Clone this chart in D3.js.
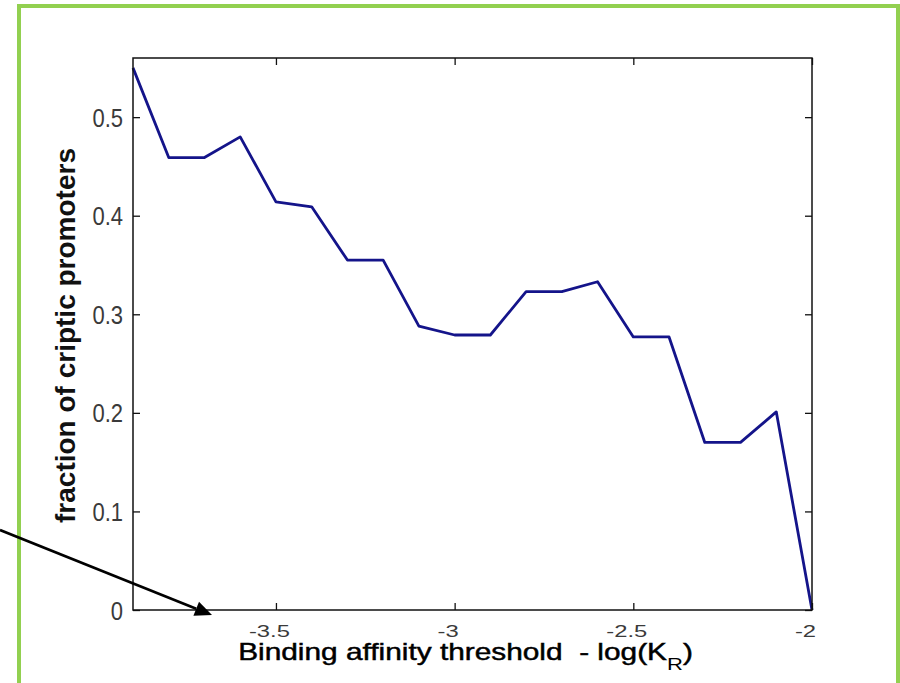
<!DOCTYPE html>
<html>
<head>
<meta charset="utf-8">
<script src="https://cdn.jsdelivr.net/npm/d3@7"></script>
<style>
  html, body { margin: 0; padding: 0; background: #fff; }
  svg { display: block; font-family: "Liberation Sans", Arial, sans-serif; }
</style>
</head>
<body>
<div class="chart"></div>
<script>
// threshold values (x) and fraction of criptic promoters (y)
const thresholds = [-3.9, -3.8, -3.7, -3.6, -3.5, -3.4, -3.3, -3.2, -3.1, -3.0,
                    -2.9, -2.8, -2.7, -2.6, -2.5, -2.4, -2.3, -2.2, -2.1, -2.0];
const fractions  = [0.55, 0.459, 0.459, 0.48, 0.414, 0.409, 0.355, 0.355, 0.288, 0.279,
                    0.279, 0.323, 0.323, 0.333, 0.277, 0.277, 0.17, 0.17, 0.201, 0];
const xTicks = [-3.5, -3, -2.5, -2];
const yTicks = [0, 0.1, 0.2, 0.3, 0.4, 0.5];
const xLabel = "Binding affinity threshold  - log(K";
const xLabelSub = "R";
const yLabel = "fraction of criptic promoters";

var cfg = {
  width: 900,
  height: 683,
  plot: {left: 133, top: 58, right: 812, bottom: 610},
  tick: 7,
  frameColor: "#92d050",
  lineColor: "#14148a",
  tickText: "#3a3a3a"
};

var scale = {
  x: d3.scaleLinear().domain([-3.9, -2]).range([cfg.plot.left, cfg.plot.right]),
  y: d3.scaleLinear().domain([0, 0.56]).range([cfg.plot.bottom, cfg.plot.top])
};

// squeeze / stretch a text horizontally so its drawn width is w
function fitWidth(sel, x, y, w, rotate){
  var bw = sel.node().getBBox().width;
  var k = w / bw;
  if(rotate) sel.attr("transform", `translate(${x},${y}) rotate(-90) scale(${k},1)`);
  else sel.attr("transform", `translate(${x},${y}) scale(${k},1)`);
}

function drawFrame(svg){
  svg.append("rect")
    .attr("x", 19).attr("y", 6)
    .attr("width", 879).attr("height", 720)
    .attr("fill", "none")
    .attr("stroke", cfg.frameColor)
    .attr("stroke-width", 4);
}

function drawAxes(svg){
  var p = cfg.plot;

  // bottom axis, ticks pointing inward
  svg.append("g")
    .attr("transform", `translate(0,${p.bottom})`)
    .call(d3.axisBottom(scale.x).tickValues(xTicks).tickSize(-cfg.tick).tickSizeOuter(0)
      .tickFormat(d => String(d)))
    .call(g => g.select(".domain").remove())
    .call(g => g.selectAll("line").attr("stroke", "#111").attr("stroke-width", 1.3))
    .call(g => g.selectAll("text")
      .attr("fill", cfg.tickText)
      .attr("y", 0).attr("dy", 0)
      .style("font-size", "17px")
      .style("font-family", "Liberation Sans, Arial, sans-serif")
      .attr("transform", "translate(-7,27) scale(1.4,1)"));

  // top axis, ticks only
  svg.append("g")
    .attr("transform", `translate(0,${p.top})`)
    .call(d3.axisTop(scale.x).tickValues(xTicks).tickSize(-cfg.tick).tickSizeOuter(0).tickFormat(""))
    .call(g => g.select(".domain").remove())
    .call(g => g.selectAll("line").attr("stroke", "#111").attr("stroke-width", 1.3));

  // left axis
  svg.append("g")
    .attr("transform", `translate(${p.left},0)`)
    .call(d3.axisLeft(scale.y).tickValues(yTicks).tickSize(-cfg.tick).tickSizeOuter(0)
      .tickFormat(d => String(d)))
    .call(g => g.select(".domain").remove())
    .call(g => g.selectAll("line").attr("stroke", "#111").attr("stroke-width", 1.3))
    .call(g => g.selectAll("text")
      .attr("fill", cfg.tickText)
      .attr("x", 0).attr("dy", "0.36em")
      .style("font-size", "25px")
      .style("font-family", "Liberation Sans, Arial, sans-serif")
      .attr("transform", "translate(-10,0) scale(0.88,1)"));

  // right axis, ticks only
  svg.append("g")
    .attr("transform", `translate(${p.right},0)`)
    .call(d3.axisRight(scale.y).tickValues(yTicks).tickSize(-cfg.tick).tickSizeOuter(0).tickFormat(""))
    .call(g => g.select(".domain").remove())
    .call(g => g.selectAll("line").attr("stroke", "#111").attr("stroke-width", 1.3));

  // box
  svg.append("rect")
    .attr("x", p.left).attr("y", p.top)
    .attr("width", p.right - p.left).attr("height", p.bottom - p.top)
    .attr("fill", "none")
    .attr("stroke", "#111")
    .attr("stroke-width", 1.5);
}

function drawLabels(svg){
  // x label with subscript
  var xl = svg.append("text")
    .attr("text-anchor", "middle")
    .style("white-space", "pre")
    .style("font-size", "23px")
    .attr("fill", "#000")
    .attr("stroke", "#000")
    .attr("stroke-width", 0.45);
  xl.append("tspan").text(xLabel);
  xl.append("tspan").text(xLabelSub).attr("dy", 10).style("font-size", "17px").attr("stroke-width", 0);
  xl.append("tspan").text(")").attr("dy", -10);
  fitWidth(xl, 465.5, 660, 455, false);

  // y label
  var yl = svg.append("text")
    .attr("text-anchor", "middle")
    .style("font-size", "28px")
    .style("font-weight", "bold")
    .attr("fill", "#111")
    .text(yLabel);
  fitWidth(yl, 75, 335.5, 375, true);
}

function drawLine(svg){
  var data = thresholds.map((t, i) => ({x: t, y: fractions[i]}));
  svg.append("path")
    .datum(data)
    .attr("fill", "none")
    .attr("stroke", cfg.lineColor)
    .attr("stroke-width", 2.8)
    .attr("stroke-linejoin", "round")
    .attr("d", d3.line().x(d => scale.x(d.x)).y(d => scale.y(d.y)));
}

function drawArrow(svg){
  var start = [0, 530], tip = [212, 615];
  var dx = tip[0] - start[0], dy = tip[1] - start[1];
  var len = Math.sqrt(dx * dx + dy * dy);
  var ux = dx / len, uy = dy / len;
  var headLen = 17, headHalf = 7.5;
  var bx = tip[0] - ux * headLen, by = tip[1] - uy * headLen;

  svg.append("line")
    .attr("x1", start[0]).attr("y1", start[1])
    .attr("x2", bx).attr("y2", by)
    .attr("stroke", "#000")
    .attr("stroke-width", 2.6);

  svg.append("polygon")
    .attr("points", [tip, [bx - uy * headHalf, by + ux * headHalf], [bx + uy * headHalf, by - ux * headHalf]]
      .map(p => p.join(",")).join(" "))
    .attr("fill", "#000");
}

function createViz(){
  var svg = d3.select(".chart").append("svg")
    .attr("width", cfg.width)
    .attr("height", cfg.height);

  drawFrame(svg);
  drawLine(svg);
  drawAxes(svg);
  drawLabels(svg);
  drawArrow(svg);
}

createViz();
</script>
</body>
</html>
